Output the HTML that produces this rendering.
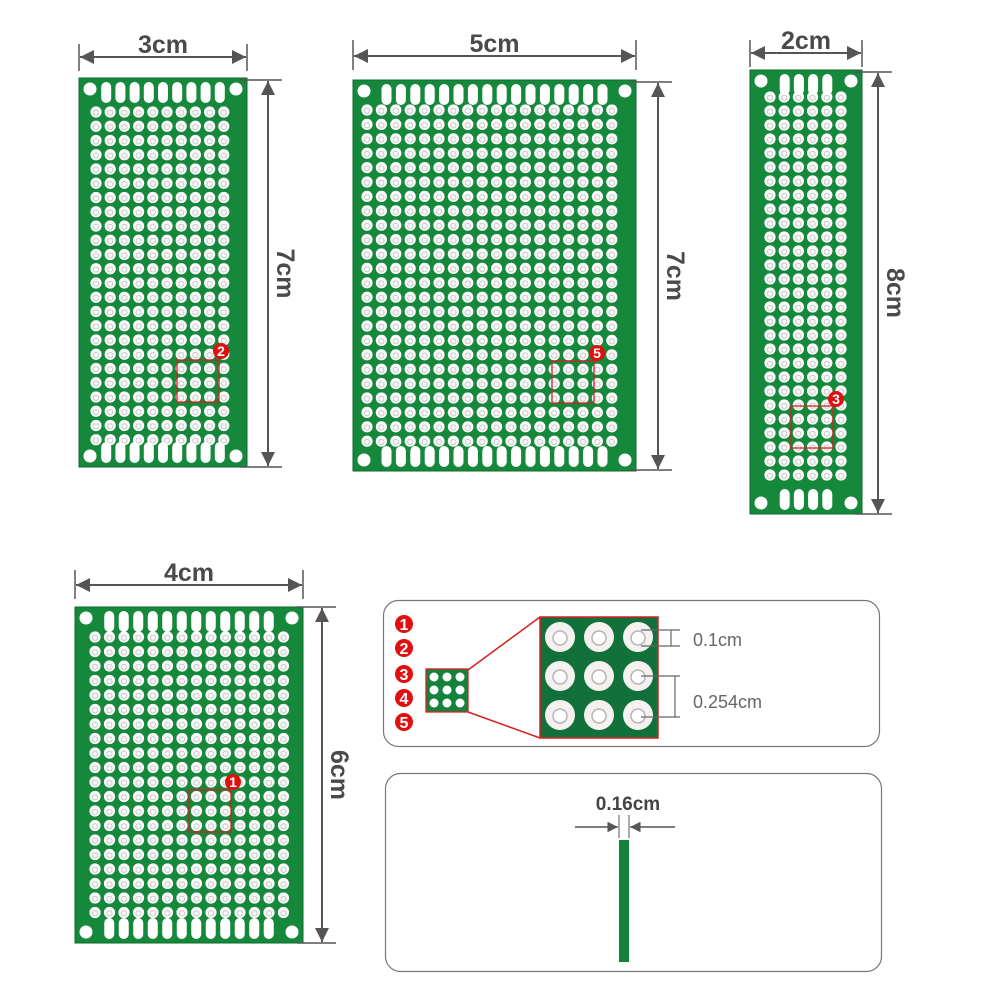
<!DOCTYPE html>
<html><head><meta charset="utf-8"><style>
html,body{margin:0;padding:0;background:#fff;width:1000px;height:1000px;overflow:hidden}
svg{display:block}
</style></head><body>
<svg id="s" width="1000" height="1000" viewBox="0 0 1000 1000" xmlns="http://www.w3.org/2000/svg">
<defs>
<marker id="ar" viewBox="0 0 10 10" refX="10" refY="5" markerWidth="7" markerHeight="7" orient="auto-start-reverse"><path d="M0,0 L10,5 L0,10 z" fill="#555"/></marker>
</defs>
</svg>
<script>
const s=document.getElementById('s');let h='';
function board(x,y,w,hh,gx,gy,cols,rows,px,py,slotsTop,slotsBot,sp){
 h+=`<rect x="${x}" y="${y}" width="${w}" height="${hh}" fill="#15883c" stroke="#0c6a2c" stroke-width="1"/>`;
 for(let r=0;r<rows;r++)for(let c=0;c<cols;c++){let cx=gx+c*px,cy=gy+r*py;
  h+=`<circle cx="${cx}" cy="${cy}" r="5.6" fill="#fbfbfb"/><circle cx="${cx}" cy="${cy+0.8}" r="2.6" fill="none" stroke="#c9c9c9" stroke-width="1"/>`;}
 const mr=6.5;
 [[x+11,y+11],[x+w-11,y+11],[x+11,y+hh-11],[x+w-11,y+hh-11]].forEach(p=>h+=`<circle cx="${p[0]}" cy="${p[1]}" r="${mr}" fill="#fff"/>`);
 const sl=(n,yy)=>{let st=x+w/2-(n-1)/2*sp;for(let i=0;i<n;i++){let cx=st+i*sp;h+=`<rect x="${cx-5}" y="${yy}" width="10" height="21" rx="5" fill="#fff"/>`;}};
 sl(slotsTop,y+4);sl(slotsBot,y+hh-25);
}
board(79,78,168,389,96,112,10,24,14.2,14.25,9,9,14.2);
board(353,80,283,391,367,110,18,24,14.4,14.4,16,16,14.4);
board(750,70,112,444,770,97,6,28,14.2,14,4,4,14.2);
board(75,607,228,336,95,637,14,20,14.5,14.5,12,12,14.5);
function mk(x,y,n,cx,cy){h+=`<rect x="${x}" y="${y}" width="42" height="42" fill="none" stroke="#d62020" stroke-width="1.3"/><circle cx="${cx}" cy="${cy}" r="8" fill="#e01010"/><text x="${cx}" y="${cy+5}" text-anchor="middle" font-family="Liberation Sans,sans-serif" font-weight="bold" font-size="14" fill="#fff">${n}</text>`;}
mk(177,360,2,221,351);mk(552,361,5,597,353);mk(791,406,3,836,399);mk(189,790,1,233,782);
function hl(x1,x2,y,t1,lab){h+=`<line x1="${x1}" y1="${t1}" x2="${x1}" y2="${y+14}" stroke="#555" stroke-width="1.5"/><line x1="${x2}" y1="${t1}" x2="${x2}" y2="${y+14}" stroke="#555" stroke-width="1.5"/><line x1="${x1+1}" y1="${y}" x2="${x2-1}" y2="${y}" stroke="#555" stroke-width="2" marker-start="url(#ar)" marker-end="url(#ar)"/><text x="${(x1+x2)/2}" y="${y-4}" text-anchor="middle" font-family="Liberation Sans,sans-serif" font-weight="bold" font-size="25" fill="#4a4a4a">${lab}</text>`;}
hl(79,247,57,44,'3cm');hl(353,636,56,40,'5cm');hl(750,862,53,40,'2cm');hl(75,303,585,570,'4cm');
function vl(x,y1,y2,xa,lab){h+=`<line x1="${xa}" y1="${y1}" x2="${x+14}" y2="${y1}" stroke="#555" stroke-width="1.5"/><line x1="${xa}" y1="${y2}" x2="${x+14}" y2="${y2}" stroke="#555" stroke-width="1.5"/><line x1="${x}" y1="${y1+1}" x2="${x}" y2="${y2-1}" stroke="#555" stroke-width="2" marker-start="url(#ar)" marker-end="url(#ar)"/><text transform="translate(${x+9},${(y1+y2)/2}) rotate(90)" text-anchor="middle" font-family="Liberation Sans,sans-serif" font-weight="bold" font-size="25" fill="#4a4a4a">${lab}</text>`;}
vl(268,80,467,240,'7cm');vl(658,82,470,630,'7cm');vl(878,72,514,855,'8cm');vl(322,607,943,297,'6cm');
h+=`<rect x="383.5" y="600.5" width="496" height="146" rx="15" fill="#fff" stroke="#777" stroke-width="1.2"/>`;
[624,648,674,698,722].forEach((y,i)=>{h+=`<circle cx="404" cy="${y}" r="9" fill="#e01010"/><text x="404" y="${y+6}" text-anchor="middle" font-family="Liberation Sans,sans-serif" font-weight="bold" font-size="16" fill="#fff">${i+1}</text>`;});
h+=`<line x1="468" y1="670" x2="540" y2="617" stroke="#d62020" stroke-width="1.5"/><line x1="468" y1="712" x2="540" y2="738" stroke="#d62020" stroke-width="1.5"/>`;
h+=`<rect x="426" y="669" width="42" height="43" fill="#13823a" stroke="#d62020" stroke-width="1.3"/>`;
for(let r=0;r<3;r=r+1)for(let c=0;c<3;c++)h+=`<circle cx="${434+c*13}" cy="${677+r*13}" r="4.5" fill="#fff"/>`;
h+=`<rect x="540" y="617" width="118" height="121" fill="#12703a" stroke="#d62020" stroke-width="1.5"/>`;
for(let r=0;r<3;r++)for(let c=0;c<3;c++){let cx=560+c*39,cy=637+r*39;h+=`<circle cx="${cx}" cy="${cy}" r="15" fill="#f4f1ef"/><circle cx="${cx}" cy="${cy+1}" r="7" fill="#fff" stroke="#b5b5b5" stroke-width="1.5"/>`;}
h+=`<g stroke="#666" stroke-width="1.2"><line x1="641" y1="630" x2="680" y2="630"/><line x1="641" y1="646" x2="680" y2="646"/><line x1="671" y1="630" x2="671" y2="646"/><line x1="641" y1="676" x2="680" y2="676"/><line x1="641" y1="717" x2="680" y2="717"/><line x1="675" y1="676" x2="675" y2="717"/></g>`;
h+=`<text x="693" y="646" font-family="Liberation Sans,sans-serif" font-size="18" fill="#666">0.1cm</text><text x="693" y="708" font-family="Liberation Sans,sans-serif" font-size="18" fill="#666">0.254cm</text>`;
h+=`<rect x="385.5" y="773.5" width="496" height="198" rx="15" fill="#fff" stroke="#777" stroke-width="1.2"/>`;
h+=`<text x="628" y="810" text-anchor="middle" font-family="Liberation Sans,sans-serif" font-weight="bold" font-size="19" fill="#444">0.16cm</text>`;
h+=`<line x1="575" y1="827" x2="618" y2="827" stroke="#555" stroke-width="1.5" marker-end="url(#ar)"/><line x1="675" y1="827" x2="630" y2="827" stroke="#555" stroke-width="1.5" marker-end="url(#ar)"/><line x1="619" y1="815" x2="619" y2="838" stroke="#555"/><line x1="629" y1="815" x2="629" y2="838" stroke="#555"/>`;
h+=`<rect x="619" y="840" width="10" height="122" fill="#13823a"/>`;
s.insertAdjacentHTML('beforeend',h);
</script>
</body></html>
